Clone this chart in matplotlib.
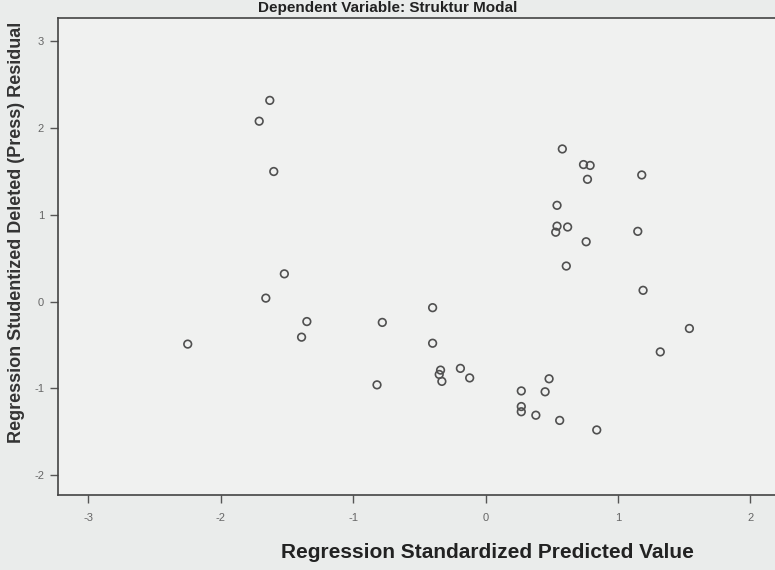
import matplotlib
matplotlib.use("Agg")
import matplotlib.pyplot as plt
import numpy as np

# standardized predicted value (x) and studentized deleted residual (y)
pred_std = [-2.25, -1.71, -1.63, -1.60, -1.52, -1.66, -1.35, -1.39, -0.78, -0.82,
            -0.40, -0.40, -0.34, -0.35, -0.33, -0.19, -0.12,
            0.58, 0.74, 0.79, 0.77, 1.18, 0.54, 0.54, 0.53, 0.62, 0.76,
            1.15, 0.61, 1.19, 1.54, 1.32,
            0.48, 0.27, 0.45, 0.27, 0.27, 0.38, 0.56, 0.84]
resid_del = [-0.49, 2.08, 2.32, 1.50, 0.32, 0.04, -0.23, -0.41, -0.24, -0.96,
             -0.07, -0.48, -0.79, -0.84, -0.92, -0.77, -0.88,
             1.76, 1.58, 1.57, 1.41, 1.46, 1.11, 0.87, 0.80, 0.86, 0.69,
             0.81, 0.41, 0.13, -0.31, -0.58,
             -0.89, -1.03, -1.04, -1.21, -1.27, -1.31, -1.37, -1.48]

x_ticks = [-3, -2, -1, 0, 1, 2]
y_ticks = [-2, -1, 0, 1, 2, 3]

plt.rcParams['font.family'] = ['Liberation Sans', 'DejaVu Sans']
plt.rcParams['axes.unicode_minus'] = False

fig = plt.figure(figsize=(7.75, 5.7), dpi=100)
fig.patch.set_facecolor('#eaeceb')

ax = fig.add_axes([58 / 775, 75 / 570, 732 / 775, 477 / 570])
ax.set_facecolor('#f0f1f0')

ax.scatter(pred_std, resid_del, s=30, facecolors='none', edgecolors='#505050',
           linewidths=1.2, zorder=3)

ax.set_xlim(-3.23, 2.30)
ax.set_ylim(-2.23, 3.27)
ax.set_xticks(x_ticks)
ax.set_yticks(y_ticks)
ax.tick_params(direction='out', length=6, width=1, colors='#555555',
               labelsize=8, labelcolor='#666666', pad=4)
ax.tick_params(axis='x', pad=7)
for sp in ax.spines.values():
    sp.set_color('#444444')
    sp.set_linewidth(1.2)

ax.set_xlabel('Regression Standardized Predicted Value', fontsize=15,
              fontweight='bold', color='#222222')
ax.xaxis.set_label_coords(0.587, -0.10)
ax.set_ylabel('Regression Studentized Deleted (Press) Residual', fontsize=13,
              fontweight='bold', color='#333333')
ax.yaxis.set_label_coords(-0.045, 0.55)

fig.text(0.50, 1 - 8 / 570, 'Dependent Variable: Struktur Modal', ha='center',
         va='center', fontsize=11, fontweight='bold', color='#222222')

fig.savefig('out.png', dpi=100, facecolor=fig.get_facecolor())
